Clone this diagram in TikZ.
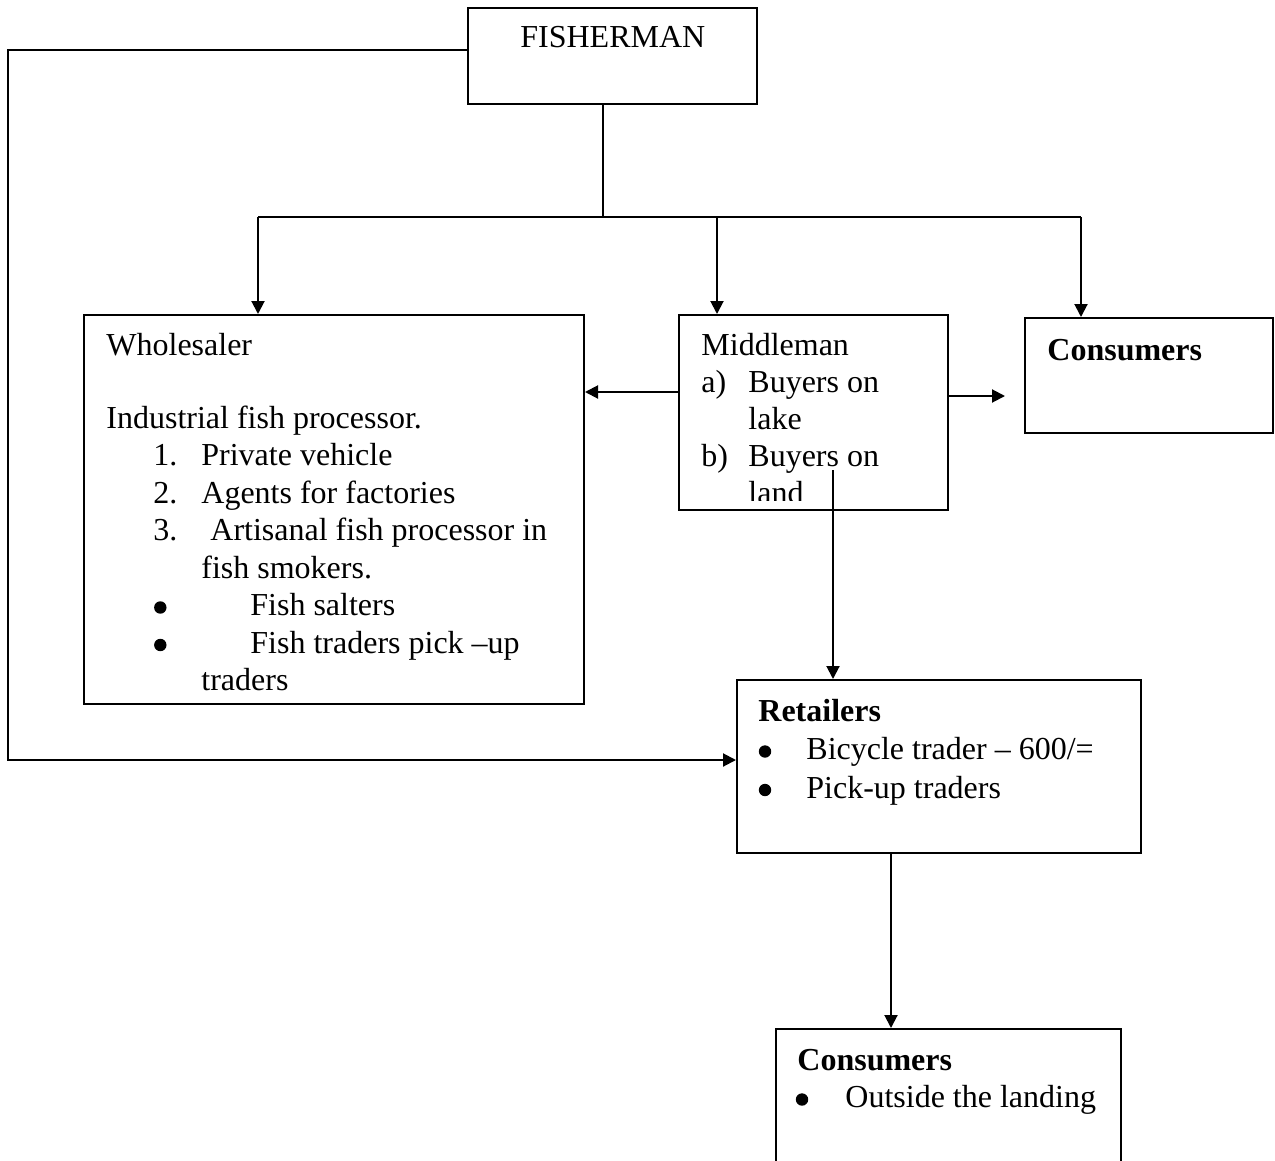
\documentclass[tikz,border=0pt]{standalone}
\usepackage{fontspec}
\setmainfont{Liberation Serif}
\usetikzlibrary{arrows.meta,fit}
\begin{document}
\begin{tikzpicture}[x=0.5pt,y=-0.5pt,
  box/.style={draw,line width=1pt,inner sep=0pt,rectangle},
  txt/.style={anchor=base west,inner sep=0pt,font=\fontsize{16}{18.75}\selectfont},
  btxt/.style={txt,font=\fontsize{16}{18.75}\selectfont\bfseries},
  bul/.style={circle,fill,inner sep=0pt,minimum size=6.2pt},
  link/.style={line width=1pt},
  arr/.style={link,-{Triangle[length=6.5pt,width=6.5pt]}}]
\clip (0,0) rectangle (1275,1161);

% boxes
\node[box,fit={(468,8) (757,104)}] (fish) {};
\node[box,fit={(84,315) (584,704)}] (whole) {};
\node[box,fit={(679,315) (948,510)}] (mid) {};
\node[box,fit={(1025,318) (1273,433)}] (cons) {};
\node[box,fit={(737,680) (1141,853)}] (ret) {};
\node[box,fit={(776,1029) (1121,1180)}] (cons2) {};

% fisherman
\node[txt] (tfish) at (520,48) {FISHERMAN};

% wholesaler
\node[txt] (tw0) at (106,355) {Wholesaler};
\node[txt] (tw1) at (106,428) {Industrial fish processor.};
\node[txt] (tn1) at (153,465) {1.};
\node[txt] (tw2) at (201,465) {Private vehicle};
\node[txt] (tn2) at (153,503) {2.};
\node[txt] (tw3) at (201,503) {Agents for factories};
\node[txt] (tn3) at (153,540) {3.};
\node[txt] (tw4) at (210,540) {Artisanal fish processor in};
\node[txt] (tw5) at (201,578) {fish smokers.};
\node[bul] (tb1) at (160.3,607.5) {};
\node[txt] (tw6) at (250,615) {Fish salters};
\node[bul] (tb2) at (160.3,645) {};
\node[txt] (tw7) at (250,653) {Fish traders pick –up};
\node[txt] (tw8) at (201,690) {traders};

% middleman
\node[txt] (tm0) at (701,355) {Middleman};
\node[txt] (tma) at (701,392) {a)};
\node[txt] (tm1) at (748,392) {Buyers on};
\node[txt] (tm2) at (748,429) {lake};
\node[txt] (tmb) at (701,466) {b)};
\node[txt] (tm3) at (748,466) {Buyers on};
\begin{scope}
  \clip (679,315) rectangle (948,500);
  \node[txt] (tm4) at (748,503) {land};
\end{scope}

% consumers (top)
\node[btxt] (tc0) at (1047,360) {Consumers};

% retailers
\node[btxt] (tr0) at (758,721) {Retailers};
\node[bul] (trb1) at (765,751.5) {};
\node[txt] (tr1) at (806,759) {Bicycle trader – 600/=};
\node[bul] (trb2) at (765,790) {};
\node[txt] (tr2) at (806,798) {Pick-up traders};

% consumers (bottom)
\node[btxt] (td0) at (797,1070) {Consumers};
\node[bul] (tdb) at (802,1099.5) {};
\node[txt] (td1) at (845,1107) {Outside the landing};

% connector points
\coordinate (lt) at (8,50);
\coordinate (lb) at (8,760);
\coordinate (split) at (603,217);
\coordinate (busl) at (258,217);
\coordinate (busm) at (717,217);
\coordinate (busr) at (1081,217);
\coordinate (mwy) at (0,392);
\coordinate (mey) at (0,396);
\coordinate (mend) at (1005,396);
\coordinate (mdrop) at (833,470);
\coordinate (rdrop) at (891,0);

% connectors
\draw[arr] (fish.west |- lt) -- (lt) -- (lb) -- (ret.west |- lb);
\draw[link] (split |- fish.south) -- (split);
\draw[link] (busl) -- (busr);
\draw[arr] (busl) -- (busl |- whole.north);
\draw[arr] (busm) -- (busm |- mid.north);
\draw[arr] (busr) -- (busr |- cons.north);
\draw[arr] (mid.west |- mwy) -- (whole.east |- mwy);
\draw[arr] (mid.east |- mey) -- (mend);
\draw[arr] (mdrop) -- (mdrop |- ret.north);
\draw[arr] (rdrop |- ret.south) -- (rdrop |- cons2.north);
\end{tikzpicture}
\end{document}
